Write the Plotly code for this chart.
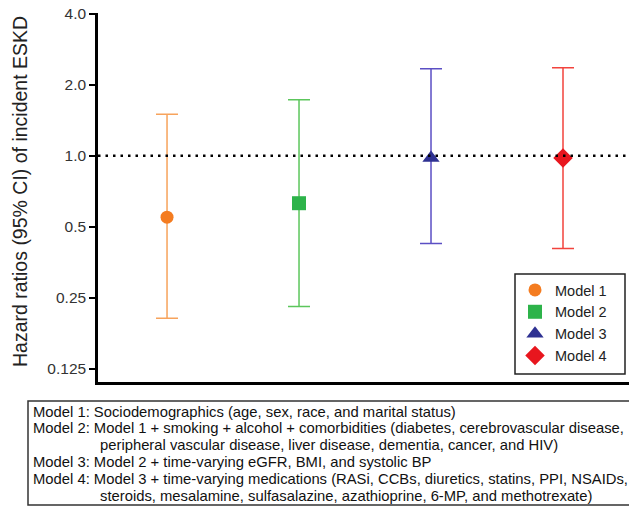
import math
import plotly.graph_objects as go

# ---- data ----
models = ["Model 1", "Model 2", "Model 3", "Model 4"]
positions = [1, 2, 3, 4]
hr = [0.55, 0.63, 0.98, 0.98]
ci_low = [0.205, 0.23, 0.425, 0.405]
ci_high = [1.50, 1.73, 2.34, 2.36]
tick_vals = [0.125, 0.25, 0.5, 1.0, 2.0, 4.0]
tick_text = ["0.125", "0.25", "0.5", "1.0", "2.0", "4.0"]
y_title = "Hazard ratios (95% CI) of incident ESKD"
footnote_lines = [
    ("Model 1: Sociodemographics (age, sex, race, and marital status)", 0),
    ("Model 2: Model 1 + smoking + alcohol + comorbidities (diabetes, cerebrovascular disease,", 0),
    ("peripheral vascular disease, liver disease, dementia, cancer, and HIV)", 1),
    ("Model 3: Model 2 + time-varying eGFR, BMI, and systolic BP", 0),
    ("Model 4: Model 3 + time-varying medications (RASi, CCBs, diuretics, statins, PPI, NSAIDs,", 0),
    ("steroids, mesalamine, sulfasalazine, azathioprine, 6-MP, and methotrexate)", 1),
]

# ---- styles ----
marker_colors = ["#F47C20", "#2DB34A", "#2E3192", "#E8161E"]
bar_colors = ["#F7A35C", "#5CC65C", "#5B4FC4", "#F2433D"]
symbols = ["circle", "square", "triangle-up", "diamond"]
sizes = [13, 14, 15, 15]
FONT = "Liberation Sans, Arial"

W, H = 629, 510
L, R, T, B = 98, 0, 13, 128
PW, PH = W - L - R, H - T - B


def px(xp):
    return (xp - L) / PW


def py(yp):
    return (H - B - yp) / PH


fig = go.Figure()
for i, m in enumerate(models):
    fig.add_trace(go.Scatter(
        x=[positions[i]], y=[hr[i]], mode="markers", name=m,
        legendgroup=m,
        marker=dict(symbol=symbols[i], size=sizes[i], color=marker_colors[i],
                    line=dict(width=0)),
        error_y=dict(type="data", symmetric=False,
                     array=[ci_high[i] - hr[i]], arrayminus=[hr[i] - ci_low[i]],
                     color=bar_colors[i], thickness=1.5, width=11),
    ))

fig.add_shape(type="line", xref="paper", yref="y", x0=0, x1=1, y0=1, y1=1,
              line=dict(color="black", width=2.5, dash="2.5px,5px"))

# legend frame
fig.add_shape(type="rect", xref="paper", yref="paper",
              x0=px(515), x1=px(625), y0=py(374), y1=py(274),
              line=dict(color="#222222", width=1.5), fillcolor="white", layer="below")

# y-axis title
fig.add_annotation(x=px(20), y=py(192), xref="paper", yref="paper", text=y_title,
                   textangle=-90, showarrow=False, xanchor="center", yanchor="middle",
                   font=dict(size=19.5, color="#222222", family=FONT))

# footnote box
fig.add_shape(type="rect", xref="paper", yref="paper",
              x0=px(28), x1=px(660), y0=py(401), y1=py(505),
              line=dict(color="#333333", width=1.5), fillcolor="rgba(0,0,0,0)")
y0 = 411.5
for k, (txt, indent) in enumerate(footnote_lines):
    fig.add_annotation(x=px(31 + 67 * indent), y=py(y0 + 16.8 * k), xref="paper", yref="paper",
                       text=txt, showarrow=False, xanchor="left", yanchor="middle",
                       font=dict(size=14.8, color="#111111", family=FONT))

fig.update_layout(
    width=W, height=H,
    margin=dict(l=L, r=R, t=T, b=B, pad=0, autoexpand=False),
    paper_bgcolor="white", plot_bgcolor="white",
    font=dict(family=FONT, color="#222222"),
    showlegend=True,
    legend=dict(x=px(515), y=py(274), xanchor="left", yanchor="top",
                borderwidth=0, bgcolor="rgba(0,0,0,0)",
                font=dict(size=14.5, color="#222222"), tracegroupgap=0,
                itemwidth=30),
    xaxis=dict(range=[0.477, 4.5], showline=True, linecolor="black", linewidth=2.5,
               showticklabels=False, ticks="", showgrid=False, zeroline=False,
               automargin=False),
    yaxis=dict(type="log", range=[math.log10(0.125) - 0.0549, math.log10(4) + 0.003],
               tickvals=tick_vals, ticktext=tick_text, ticks="outside", ticklen=6,
               tickwidth=2, tickcolor="black", showline=True, linecolor="black",
               linewidth=2.5, showgrid=False, zeroline=False, automargin=False,
               tickfont=dict(size=15.5, color="#333333")),
)

fig.write_html("out.html", config={"displayModeBar": False},
               post_script="document.body.style.margin='0';document.body.style.overflow='hidden';")
